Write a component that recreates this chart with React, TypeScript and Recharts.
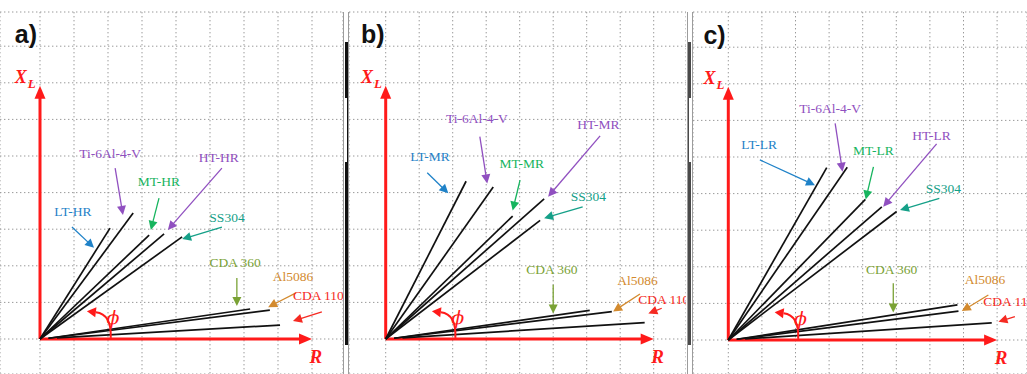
import { ComposedChart, Line, XAxis, YAxis, CartesianGrid, ReferenceLine, ReferenceDot } from "recharts"

const H = 374
const TOP = 12

const materials = ["LT", "Ti-6Al-4-V", "MT", "HT", "SS304", "CDA 360", "Al5086", "CDA 110"]
const liftOffs = ["HR", "MR", "LR"]
const panelTags = ["a)", "b)", "c)"]

// impedance trajectories, R and XL in grid units
const startR = [0, 0, 0, 0, 0, 0.25, 0.25, 0.5]
const startXL = [0, 0, 0, 0, 0, 0.02, 0.02, 0.03]
const endR_a = [2.06, 2.74, 3.21, 3.65, 4.18, 6.18, 6.76, 7.06]
const endXL_a = [3.03, 3.44, 2.84, 2.87, 2.79, 0.82, 0.79, 0.38]
const endR_b = [2.4, 3.21, 3.79, 4.73, 4.61, 6.09, 6.75, 7.73]
const endXL_b = [4.31, 4.15, 3.36, 3.83, 3.24, 0.78, 0.75, 0.45]
const endR_c = [2.93, 3.54, 4.08, 4.57, 5.01, 6.82, 6.85, 7.84]
const endXL_c = [4.71, 4.72, 3.84, 3.64, 3.51, 0.96, 0.79, 0.47]

const colors = ["#1f82c8", "#9050c0", "#16b45e", "#9050c0", "#15a088", "#7aa235", "#d38a2e", "#f52a22"]

// annotation placement (text centre, arrow tail, arrow head) per panel
const notes = [
  {
    text: [[0.97, 3.47], [2.06, 5.08], [3.5, 4.29], [5.26, 4.95], [5.5, 3.33], [5.74, 2.08], [7.44, 1.72], [7.44, 1.2]],
    from: [[0.94, 3.06], [2.21, 4.67], [3.5, 3.85], [5.35, 4.67], [5.35, 3.06], [5.79, 1.67], [7.53, 1.26], [8.29, 0.74]],
    to: [[1.59, 2.49], [2.44, 3.39], [3.26, 2.98], [3.76, 2.98], [4.18, 2.73], [5.79, 0.9], [6.71, 0.87], [7.44, 0.49]],
  },
  {
    text: [[1.32, 4.98], [2.72, 6.03], [4.06, 4.8], [6.35, 5.85], [6.05, 3.89], [4.96, 1.89], [7.52, 1.61], [7.54, 1.07]],
    from: [[1.24, 4.54], [2.81, 5.53], [4.01, 4.34], [6.4, 5.55], [5.88, 3.61], [5.0, 1.48], [7.59, 1.23], [8.24, 0.84]],
    to: [[1.87, 3.98], [3.03, 4.25], [3.79, 3.51], [4.85, 3.89], [4.73, 3.3], [5.0, 0.7], [6.79, 0.75], [7.84, 0.7]],
  },
  {
    text: [[0.92, 5.33], [3.03, 6.33], [4.32, 5.19], [6.05, 5.6], [6.4, 4.14], [4.86, 1.93], [7.64, 1.64], [7.59, 1.05]],
    from: [[0.94, 4.92], [3.18, 5.92], [4.32, 4.73], [6.2, 5.36], [6.28, 3.87], [4.91, 1.55], [7.74, 1.23], [8.53, 0.64]],
    to: [[2.58, 4.23], [3.4, 4.6], [4.09, 3.84], [4.61, 3.64], [5.11, 3.55], [4.91, 0.75], [6.95, 0.79], [8.04, 0.5]],
  },
]

const panels = [
  { left: 0, width: 343, ox: 40, oy: 339, sx: 34, endR: endR_a, endXL: endXL_a },
  { left: 349, width: 337, ox: 36.7, oy: 339, sx: 33.5, endR: endR_b, endXL: endXL_b },
  { left: 693, width: 334, ox: 35.3, oy: 340, sx: 33.6, endR: endR_c, endXL: endXL_c },
]
const SY = 36.6
const RED = "#ff1a1a"
const labelFont = "'Liberation Serif', serif"

const labelFor = (i: number, p: number) =>
  i === 0 || i === 2 || i === 3 ? `${materials[i]}-${liftOffs[p]}` : materials[i]

const arrow = (color: string, width: number, len: number, half: number) => (p: any) => {
  const { x1, y1, x2, y2 } = p
  const a = Math.atan2(y2 - y1, x2 - x1)
  const bx = x2 - len * Math.cos(a)
  const by = y2 - len * Math.sin(a)
  const nx = -Math.sin(a) * half
  const ny = Math.cos(a) * half
  return (
    <g>
      <line x1={x1} y1={y1} x2={bx + Math.cos(a)} y2={by + Math.sin(a)} stroke={color} strokeWidth={width} />
      <polygon points={`${x2},${y2} ${bx + nx},${by + ny} ${bx - nx},${by - ny}`} fill={color} />
    </g>
  )
}

const phiArc = (p: any) => {
  const { x1, y1, x2, y2 } = p
  const cx = x1 + 1
  const cy = y2 + 3
  const a = Math.atan2(y2 - cy, x2 - cx)
  const len = 9
  const bx = x2 - len * Math.cos(a)
  const by = y2 - len * Math.sin(a)
  const nx = -Math.sin(a) * 5
  const ny = Math.cos(a) * 5
  return (
    <g>
      <path d={`M${x1},${y1} Q${cx},${cy} ${bx},${by}`} fill="none" stroke={RED} strokeWidth={2} />
      <polygon points={`${x2},${y2} ${bx + nx},${by + ny} ${bx - nx},${by - ny}`} fill={RED} />
    </g>
  )
}

const textShape = (txt: string, color: string, anchor: string) => (p: any) => (
  <text x={p.cx} y={p.cy} fill={color} fontFamily={labelFont} fontSize={13.5} textAnchor={anchor} dominantBaseline="central">
    {txt}
  </text>
)

function Panel({ idx }: { idx: number }) {
  const cfg = panels[idx]
  const n = notes[idx]
  const xMin = -cfg.ox / cfg.sx
  const xMax = (cfg.width - cfg.ox) / cfg.sx
  const yMin = -(H - cfg.oy) / SY
  const yMax = (cfg.oy - TOP) / SY
  const xTicks: number[] = []
  for (let v = Math.ceil(xMin); v <= xMax; v++) xTicks.push(v)
  const yTicks: number[] = []
  for (let v = Math.ceil(yMin); v <= yMax; v++) yTicks.push(v)

  return (
    <div style={{ position: "absolute", left: cfg.left, top: 0 }}>
      <ComposedChart width={cfg.width} height={H} margin={{ top: TOP, right: 0, bottom: 0, left: 0 }}>
        <CartesianGrid stroke="#999" strokeDasharray="1.4 2.6" />
        <XAxis type="number" dataKey="x" domain={[xMin, xMax]} ticks={xTicks} hide allowDataOverflow />
        <YAxis type="number" dataKey="y" domain={[yMin, yMax]} ticks={yTicks} hide allowDataOverflow />

        <ReferenceLine segment={[{ x: 0, y: 0 }, { x: 8.0, y: 0 }]} shape={arrow(RED, 3, 13, 5.5)} />
        <ReferenceLine segment={[{ x: 0, y: 0 }, { x: 0, y: 6.92 }]} shape={arrow(RED, 3, 13, 5.5)} />

        {materials.map((m, i) => (
          <Line
            key={m}
            data={[
              { x: startR[i], y: startXL[i] },
              { x: cfg.endR[i], y: cfg.endXL[i] },
            ]}
            dataKey="y"
            type="linear"
            stroke="#111"
            strokeWidth={1.7}
            dot={false}
            activeDot={false}
            isAnimationActive={false}
          />
        ))}

        <ReferenceLine segment={[{ x: 2.08, y: 0.03 }, { x: 1.38, y: 0.76 }]} shape={phiArc} />

        {materials.map((m, i) => (
          <ReferenceLine
            key={"ar" + m}
            segment={[
              { x: n.from[i][0], y: n.from[i][1] },
              { x: n.to[i][0], y: n.to[i][1] },
            ]}
            shape={arrow(colors[i], 1.3, 9, 4.5)}
          />
        ))}
        {materials.map((m, i) => (
          <ReferenceDot
            key={"tx" + m}
            x={n.text[i][0]}
            y={n.text[i][1]}
            r={0}
            ifOverflow="visible"
            shape={textShape(labelFor(i, idx), colors[i], i === 7 ? "start" : "middle")}
          />
        ))}

        <ReferenceDot
          x={-0.74}
          y={8.1}
          r={0}
          shape={(p: any) => (
            <text x={p.cx} y={p.cy} fontFamily="'Liberation Sans', Arial, sans-serif" fontWeight="bold" fontSize={25} fill="#111">
              {panelTags[idx]}
            </text>
          )}
        />
        <ReferenceDot
          x={-0.74}
          y={7.0}
          r={0}
          shape={(p: any) => (
            <text x={p.cx} y={p.cy} fontFamily={labelFont} fontWeight="bold" fontStyle="italic" fontSize={18} fill={RED}>
              X
              <tspan fontSize={13} dx={1} dy={5}>
                L
              </tspan>
            </text>
          )}
        />
        <ReferenceDot
          x={7.93}
          y={-0.66}
          r={0}
          shape={(p: any) => (
            <text x={p.cx} y={p.cy} fontFamily={labelFont} fontWeight="bold" fontStyle="italic" fontSize={19} fill={RED}>
              R
            </text>
          )}
        />
        <ReferenceDot
          x={2.15}
          y={0.6}
          r={0}
          shape={(p: any) => (
            <text x={p.cx} y={p.cy} fontFamily="'DejaVu Serif', serif" fontStyle="italic" fontSize={19} fill={RED} textAnchor="middle" dominantBaseline="central">
              ϕ
            </text>
          )}
        />
      </ComposedChart>
    </div>
  )
}

function Divider({ left, bar }: { left: number; bar: string }) {
  return (
    <div style={{ position: "absolute", left, top: 0, width: 6, height: H }}>
      <div style={{ position: "absolute", left: 0, top: 12, width: 1, height: H - 12, background: "#9c9c9c" }} />
      <div style={{ position: "absolute", left: 5, top: 12, width: 1, height: H - 12, background: "#9c9c9c" }} />
      <div style={{ position: "absolute", left: 1.5, top: 42, width: 3, height: 303, background: bar }} />
      <div style={{ position: "absolute", left: 2, top: 98, width: 2, height: 64, background: "#fff" }} />
    </div>
  )
}

export default function App() {
  return (
    <div style={{ position: "absolute", left: 0, top: 0, width: 1027, height: H, background: "#fff", overflow: "hidden" }}>
      <Panel idx={0} />
      <Panel idx={1} />
      <Panel idx={2} />
      <Divider left={343} bar="#111" />
      <Divider left={686.5} bar="#4a4a4a" />
    </div>
  )
}
